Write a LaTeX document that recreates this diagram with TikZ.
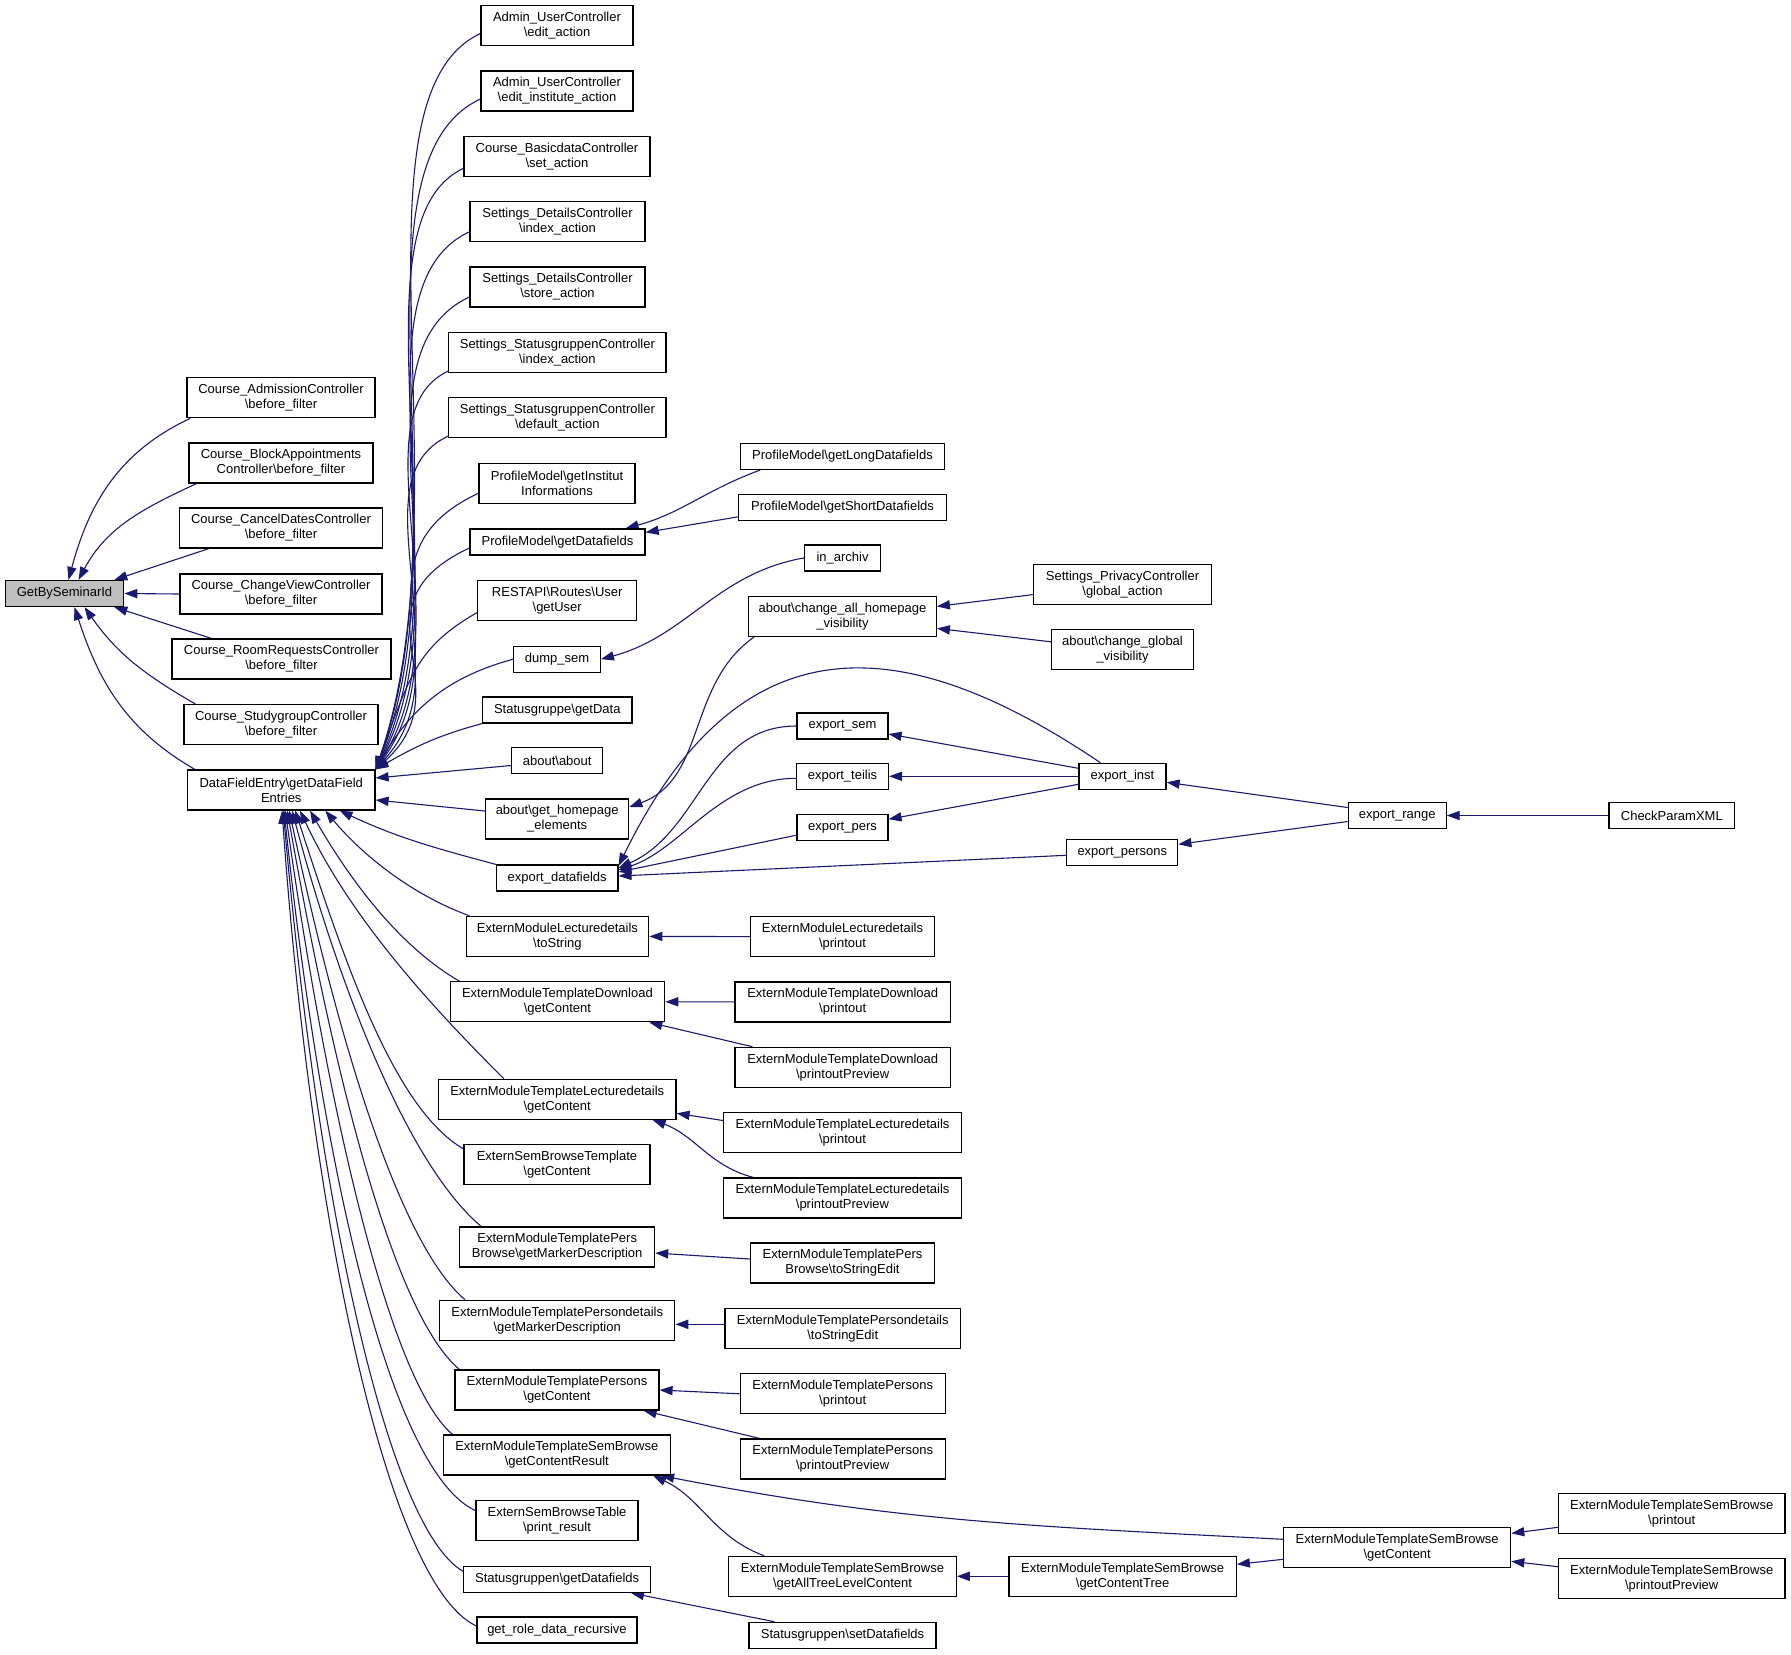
\documentclass[tikz,border=0pt]{standalone}
\usepackage{fontspec}
\setmainfont{Liberation Sans}
\usepackage{tikz}
\usetikzlibrary{arrows.meta,backgrounds}
\definecolor{callblue}{HTML}{191970}

\begin{document}
\begin{tikzpicture}[x=0.5pt, y=0.5pt,
  fn/.style={draw=black, line width=0.6pt, fill=white, inner sep=0pt, align=center,
    minimum height=13pt, font=\fontsize{6.5}{7.5}\selectfont},
  fn2/.style={fn, minimum height=20pt},
  root/.style={fill=black!25},
  cl/.style={<-, >={Triangle[length=6.5pt,width=4.6pt]}, callblue, line width=0.55pt}]
  \useasboundingbox (0,0) rectangle (1791,-1654);

  \node[fn, root, minimum width=59.2pt] (gbs) at (64.5,-593.5) {GetBySeminarId};

  \node[fn2, minimum width=94pt] (ca) at (281,-397.7) {Course\_AdmissionController\\\textbackslash before\_filter};
  \node[fn2, minimum width=92pt] (cb) at (281,-463) {Course\_BlockAppointments\\Controller\textbackslash before\_filter};
  \node[fn2, minimum width=101.5pt] (cc) at (281,-528) {Course\_CancelDatesController\\\textbackslash before\_filter};
  \node[fn2, minimum width=101pt] (cv) at (281,-594) {Course\_ChangeViewController\\\textbackslash before\_filter};
  \node[fn2, minimum width=109.5pt] (cr) at (281.5,-659) {Course\_RoomRequestsController\\\textbackslash before\_filter};
  \node[fn2, minimum width=97pt] (cs) at (281,-724.6) {Course\_StudygroupController\\\textbackslash before\_filter};
  \node[fn2, minimum width=93.75pt] (dfe) at (281.25,-790) {DataFieldEntry\textbackslash getDataField\\Entries};

  \node[fn2, minimum width=76pt] (adm1) at (557,-25.5) {Admin\_UserController\\\textbackslash edit\_action};
  \node[fn2, minimum width=76pt] (adm2) at (557,-91) {Admin\_UserController\\\textbackslash edit\_institute\_action};
  \node[fn2, minimum width=93pt] (cbd) at (557,-156.4) {Course\_BasicdataController\\\textbackslash set\_action};
  \node[fn2, minimum width=87.5pt] (sdi) at (557.5,-221.8) {Settings\_DetailsController\\\textbackslash index\_action};
  \node[fn2, minimum width=87.5pt] (sds) at (557.5,-287) {Settings\_DetailsController\\\textbackslash store\_action};
  \node[fn2, minimum width=108.6pt] (ssi) at (557.4,-352.5) {Settings\_StatusgruppenController\\\textbackslash index\_action};
  \node[fn2, minimum width=108.6pt] (ssd) at (557.4,-417.5) {Settings\_StatusgruppenController\\\textbackslash default\_action};
  \node[fn2, minimum width=78pt] (pmi) at (557,-483.3) {ProfileModel\textbackslash getInstitut\\Informations};
  \node[fn, minimum width=87.5pt] (pmd) at (557.5,-542) {ProfileModel\textbackslash getDatafields};
  \node[fn2, minimum width=79.5pt] (rest) at (557.2,-600.5) {RESTAPI\textbackslash Routes\textbackslash User\\\textbackslash getUser};
  \node[fn, minimum width=43.3pt] (dump) at (557.1,-659.2) {dump\_sem};
  \node[fn, minimum width=74.7pt] (sgd) at (557.3,-710) {Statusgruppe\textbackslash getData};
  \node[fn, minimum width=45.5pt] (abab) at (557.2,-760.5) {about\textbackslash about};
  \node[fn2, minimum width=71.5pt] (ghe) at (557.2,-819) {about\textbackslash get\_homepage\\\_elements};
  \node[fn, minimum width=60.7pt] (edf) at (557.2,-878) {export\_datafields};
  \node[fn2, minimum width=91.3pt] (elts) at (557.4,-936.4) {ExternModuleLecturedetails\\\textbackslash toString};
  \node[fn2, minimum width=107.3pt] (etdg) at (557.4,-1001.8) {ExternModuleTemplateDownload\\\textbackslash getContent};
  \node[fn2, minimum width=118.8pt] (etlg) at (557.2,-1099.3) {ExternModuleTemplateLecturedetails\\\textbackslash getContent};
  \node[fn2, minimum width=93pt] (esbt) at (557,-1164.8) {ExternSemBrowseTemplate\\\textbackslash getContent};
  \node[fn2, minimum width=97.4pt] (etpb) at (557.2,-1247) {ExternModuleTemplatePers\\Browse\textbackslash getMarkerDescription};
  \node[fn2, minimum width=117.5pt] (etpd) at (557.2,-1320.3) {ExternModuleTemplatePersondetails\\\textbackslash getMarkerDescription};
  \node[fn2, minimum width=102pt] (etpg) at (557,-1390) {ExternModuleTemplatePersons\\\textbackslash getContent};
  \node[fn2, minimum width=113.7pt] (etsr) at (556.8,-1455) {ExternModuleTemplateSemBrowse\\\textbackslash getContentResult};
  \node[fn2, minimum width=81pt] (esbtab) at (557,-1520.6) {ExternSemBrowseTable\\\textbackslash print\_result};
  \node[fn, minimum width=93.3pt] (sgdf) at (557.1,-1579.4) {Statusgruppen\textbackslash getDatafields};
  \node[fn, minimum width=80pt] (grdr) at (557,-1630) {get\_role\_data\_recursive};

  \node[fn, minimum width=101.8pt] (pml) at (842.5,-456.5) {ProfileModel\textbackslash getLongDatafields};
  \node[fn, minimum width=103.7pt] (pms) at (842.5,-507.2) {ProfileModel\textbackslash getShortDatafields};
  \node[fn, minimum width=37.9pt] (inar) at (842.5,-557.9) {in\_archiv};
  \node[fn2, minimum width=93.8pt] (cahv) at (842.5,-616.4) {about\textbackslash change\_all\_homepage\\\_visibility};
  \node[fn, minimum width=45.5pt] (esem) at (842.5,-726) {export\_sem};
  \node[fn, minimum width=45.9pt] (etei) at (842.5,-776.3) {export\_teilis};
  \node[fn, minimum width=45.5pt] (eper) at (842.5,-827.2) {export\_pers};
  \node[fn2, minimum width=91.9pt] (elp) at (842.5,-936.6) {ExternModuleLecturedetails\\\textbackslash printout};
  \node[fn2, minimum width=107.7pt] (etdp) at (842.7,-1001.9) {ExternModuleTemplateDownload\\\textbackslash printout};
  \node[fn2, minimum width=107.7pt] (etdpp) at (842.7,-1067.3) {ExternModuleTemplateDownload\\\textbackslash printoutPreview};
  \node[fn2, minimum width=119pt] (etlp) at (842.5,-1132.5) {ExternModuleTemplateLecturedetails\\\textbackslash printout};
  \node[fn2, minimum width=119pt] (etlpp) at (842.5,-1197.9) {ExternModuleTemplateLecturedetails\\\textbackslash printoutPreview};
  \node[fn2, minimum width=91.9pt] (etpbs) at (842.5,-1263) {ExternModuleTemplatePers\\Browse\textbackslash toStringEdit};
  \node[fn2, minimum width=117.7pt] (etpds) at (842.7,-1328.3) {ExternModuleTemplatePersondetails\\\textbackslash toStringEdit};
  \node[fn2, minimum width=102.4pt] (etpp) at (842.7,-1393.8) {ExternModuleTemplatePersons\\\textbackslash printout};
  \node[fn2, minimum width=102.4pt] (etppp) at (842.7,-1459) {ExternModuleTemplatePersons\\\textbackslash printoutPreview};
  \node[fn2, minimum width=113.7pt] (etsa) at (842.5,-1576.3) {ExternModuleTemplateSemBrowse\\\textbackslash getAllTreeLevelContent};
  \node[fn, minimum width=93.5pt] (sgsd) at (842.5,-1635.3) {Statusgruppen\textbackslash setDatafields};

  \node[fn2, minimum width=89pt] (spg) at (1122.5,-584.6) {Settings\_PrivacyController\\\textbackslash global\_action};
  \node[fn2, minimum width=71pt] (acgv) at (1122.5,-649.8) {about\textbackslash change\_global\\\_visibility};
  \node[fn, minimum width=43.5pt] (einst) at (1122.5,-776.3) {export\_inst};
  \node[fn, minimum width=55.5pt] (epers) at (1122.3,-852.3) {export\_persons};
  \node[fn2, minimum width=113.7pt] (etsct) at (1122.6,-1576.3) {ExternModuleTemplateSemBrowse\\\textbackslash getContentTree};

  \node[fn, minimum width=48.9pt] (erng) at (1397.2,-815.5) {export\_range};
  \node[fn2, minimum width=113.5pt] (etsg) at (1397.2,-1547.3) {ExternModuleTemplateSemBrowse\\\textbackslash getContent};

  \node[fn, minimum width=62.8pt] (cpx) at (1671.8,-815.5) {CheckParamXML};
  \node[fn2, minimum width=113.3pt] (etsp) at (1671.7,-1513.3) {ExternModuleTemplateSemBrowse\\\textbackslash printout};
  \node[fn2, minimum width=113.3pt] (etspp) at (1671.7,-1578.7) {ExternModuleTemplateSemBrowse\\\textbackslash printoutPreview};

  \begin{scope}[on background layer]
  \path[cl]
  ([xshift=2pt]gbs.north) edge[out=75, in=205] ([xshift=2pt]ca.south west)
  ([xshift=7pt]gbs.north) edge[out=62, in=205] ([xshift=4pt]cb.south west)
  ([xshift=-5pt]gbs.north east) edge ([xshift=15pt]cc.south west)
  (gbs.east) edge (cv.west)
  ([xshift=-5pt]gbs.south east) edge ([xshift=20pt]cr.north west)
  ([xshift=10pt]gbs.south) edge[out=-55, in=150] ([xshift=6pt]cs.north west)
  ([xshift=5pt]gbs.south) edge[out=-72, in=150] ([xshift=4pt]dfe.north west)
  ;
  \path[cl]
  (dfe.north east) edge[out=71, in=205, out distance=142pt, in distance=76pt] ([yshift=-4pt]adm1.west)
  (dfe.north east) edge[out=70, in=205, out distance=131pt, in distance=76pt] ([yshift=-4pt]adm2.west)
  (dfe.north east) edge[out=68, in=205, out distance=119pt, in distance=64pt] ([yshift=-6pt]cbd.west)
  (dfe.north east) edge[out=65, in=205, out distance=108pt, in distance=68pt] ([yshift=-5pt]sdi.west)
  (dfe.north east) edge[out=62, in=205, out distance=98pt, in distance=68pt] ([yshift=-5pt]sds.west)
  (dfe.north east) edge[out=58, in=205, out distance=86pt, in distance=52pt] ([yshift=1pt]ssi.south west)
  (dfe.north east) edge[out=54, in=205, out distance=76pt, in distance=52pt] ([yshift=1pt]ssd.south west)
  (dfe.north east) edge[out=48, in=205, out distance=68pt, in distance=74pt] ([yshift=-5pt]pmi.west)
  (dfe.north east) edge[out=42, in=205, out distance=61pt, in distance=68pt] ([yshift=-3pt]pmd.west)
  (dfe.north east) edge[out=70, in=210, out distance=50pt, in distance=35pt] ([yshift=-6pt]rest.west)
  (dfe.north east) edge[out=60, in=195] (dump.west)
  (dfe.north east) edge[out=30, in=195] (sgd.south west)
  ([yshift=6pt]dfe.east) edge ([yshift=-2.5pt]abab.west)
  ([yshift=-5pt]dfe.east) edge ([yshift=4pt]ghe.west)
  ([xshift=-18pt]dfe.south east) edge[out=-25, in=165] (edf.north west)
  ;
  \path[cl]
  ([xshift=22pt]dfe.south) edge[out=-50, in=160, out distance=30pt, in distance=30pt] ([xshift=2pt]elts.north west)
  ([xshift=14.4pt]dfe.south) edge[out=-60, in=150, out distance=40pt, in distance=35pt] ([xshift=5pt]etdg.north west)
  ([xshift=9.4pt]dfe.south) edge[out=-65, in=135, out distance=60pt, in distance=50pt] ([xshift=33pt]etlg.north west)
  ([xshift=7pt]dfe.south) edge[out=-72, in=150, out distance=80pt, in distance=40pt] ([yshift=8pt]esbt.west)
  ([xshift=5.4pt]dfe.south) edge[out=-75, in=140, out distance=100pt, in distance=45pt] ([xshift=11pt]etpb.north west)
  ([xshift=4pt]dfe.south) edge[out=-78, in=140, out distance=120pt, in distance=42pt] ([xshift=13pt]etpd.north west)
  ([xshift=3pt]dfe.south) edge[out=-80, in=140, out distance=140pt, in distance=42pt] ([xshift=2.5pt]etpg.north west)
  ([xshift=2pt]dfe.south) edge[out=-82, in=140, out distance=155pt, in distance=40pt] ([xshift=5pt]etsr.north west)
  ([xshift=1.4pt]dfe.south) edge[out=-84, in=155, out distance=175pt, in distance=48pt] ([yshift=5pt]esbtab.west)
  ([xshift=1pt]dfe.south) edge[out=-85, in=150, out distance=190pt, in distance=45pt] ([yshift=4pt]sgdf.west)
  ([xshift=0.4pt]dfe.south) edge[out=-86, in=155, out distance=200pt, in distance=50pt] ([yshift=2pt]grdr.west)
  ;
  \path[cl]
  ([xshift=-10pt]pmd.north east) edge[out=15, in=200] ([xshift=10pt]pml.south west)
  ([yshift=-2pt]pmd.north east) edge ([yshift=2pt]pms.south west)
  (dump.east) edge[out=15, in=190] (inar.west)
  ([yshift=6pt]ghe.east) edge[out=20, in=215] ([xshift=3pt]cahv.south west)
  ([yshift=5pt]cahv.east) edge ([yshift=-5pt]spg.west)
  ([yshift=-6pt]cahv.east) edge ([yshift=4pt]acgv.west)
  ;
  \path[cl]
  ([yshift=6pt]edf.east) edge[out=64, in=146, out distance=138pt, in distance=120pt] ([xshift=11pt]einst.north west)
  ([yshift=5pt]edf.east) edge[out=24, in=180, out distance=45pt, in distance=45pt] (esem.west)
  ([yshift=4pt]edf.east) edge[out=18, in=180, out distance=33pt, in distance=38pt] ([yshift=-1pt]etei.west)
  ([yshift=3pt]edf.east) edge ([yshift=-4pt]eper.west)
  ([yshift=1pt]edf.east) edge ([yshift=-1.5pt]epers.west)
  ([yshift=-4pt]esem.east) edge ([yshift=4pt]einst.west)
  (etei.east) edge (einst.west)
  ([yshift=4pt]eper.east) edge ([yshift=-4pt]einst.west)
  ([yshift=-3pt]einst.east) edge ([yshift=4pt]erng.west)
  ([yshift=4pt]epers.east) edge ([yshift=-3pt]erng.west)
  (erng.east) edge (cpx.west)
  ;
  \path[cl]
  (elts.east) edge (elp.west)
  (etdg.east) edge (etdp.west)
  ([xshift=-8pt]etdg.south east) edge ([xshift=9pt]etdpp.north west)
  ([yshift=-7pt]etlg.east) edge ([yshift=6pt]etlp.west)
  ([xshift=-12pt]etlg.south east) edge[out=-20, in=165] ([xshift=15pt]etlpp.north west)
  ([yshift=-3pt]etpb.east) edge ([yshift=2pt]etpbs.west)
  ([yshift=-2pt]etpd.east) edge ([yshift=2pt]etpds.west)
  (etpg.east) edge (etpp.west)
  ([xshift=-8pt]etpg.south east) edge ([xshift=10pt]etppp.north west)
  ([xshift=-5pt]etsr.south east) edge[out=-11, in=177] ([yshift=4pt]etsg.west)
  ([xshift=-9pt]etsr.south east) edge[out=-25, in=160] ([xshift=18pt]etsa.north west)
  (etsa.east) edge (etsct.west)
  ([yshift=6pt]etsct.east) edge ([yshift=-6pt]etsg.west)
  ([yshift=7pt]etsg.east) edge ([yshift=-7pt]etsp.west)
  ([yshift=-7pt]etsg.east) edge ([yshift=6pt]etspp.west)
  ([xshift=-10pt]sgdf.south east) edge ([xshift=13pt]sgsd.north west)
  ;
  \end{scope}
\end{tikzpicture}
\end{document}
